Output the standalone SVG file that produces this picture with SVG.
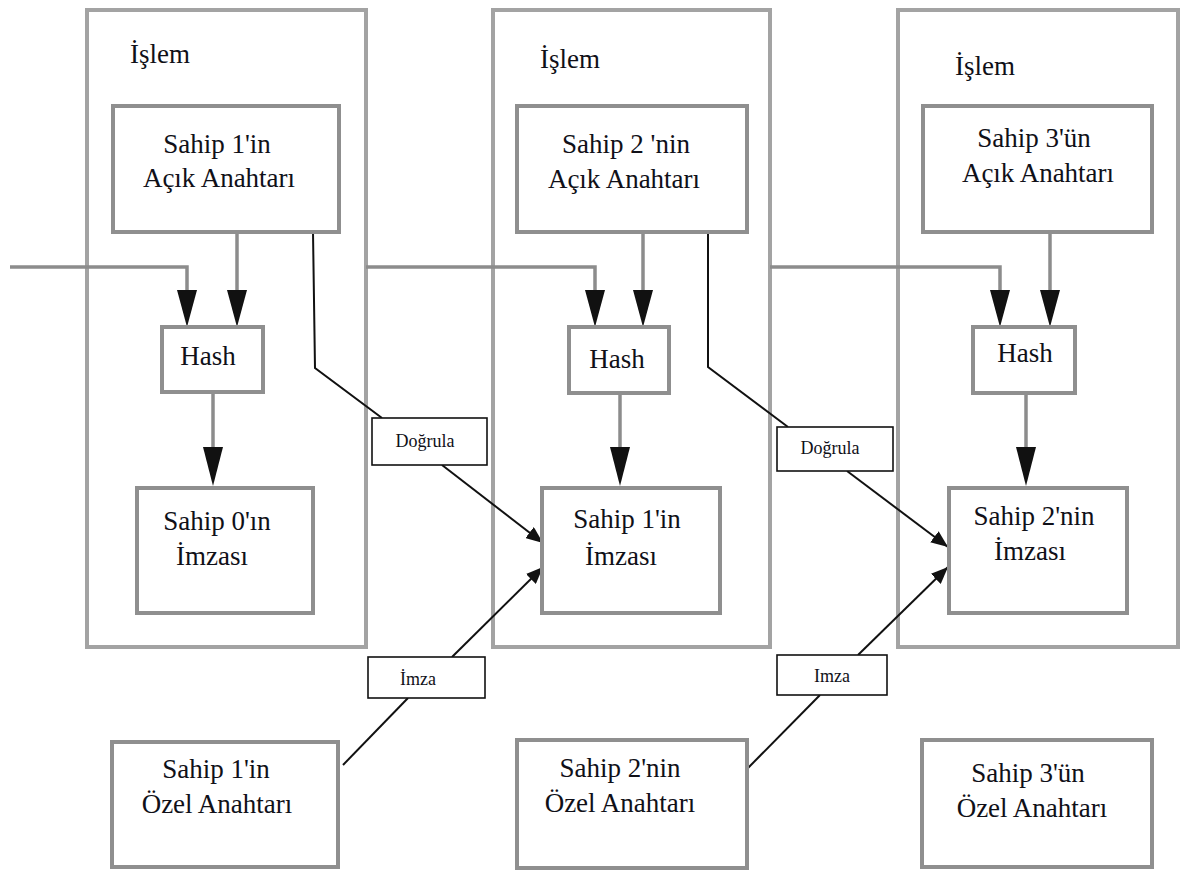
<svg xmlns="http://www.w3.org/2000/svg" width="1188" height="873" viewBox="0 0 1188 873" font-family="'Liberation Serif', 'DejaVu Serif', serif">
  <style>
    .outer { fill: #ffffff; stroke: #a3a3a3; stroke-width: 4; }
    .box { fill: #ffffff; stroke: #8f8f8f; stroke-width: 4; }
    .label { fill: #ffffff; stroke: #111111; stroke-width: 1.6; }
    .flow { fill: none; stroke: #8c8c8c; stroke-width: 3.5; }
    .link { fill: none; stroke: #111111; stroke-width: 2; }
    text { font-family: 'Liberation Serif', 'DejaVu Serif', serif; fill: #101018; }
    .t { font-size: 27px; }
    .s { font-size: 18px; text-anchor: middle; }
    .c { text-anchor: middle; }
    .head { fill: #111111; }
  </style>
  <defs>
    <marker id="arrow" markerUnits="userSpaceOnUse" markerWidth="18" markerHeight="14" refX="17" refY="7" orient="auto">
      <path d="M0,0 L17,7 L0,14 z" fill="#111111"/>
    </marker>
  </defs>

  <rect width="1188" height="873" fill="#ffffff"/>

  <!-- transaction frames -->
  <g id="tx1"><rect class="outer" x="87" y="10" width="279" height="637"/><text class="t" x="130" y="63">İşlem</text></g>
  <g id="tx2"><rect class="outer" x="493" y="10" width="277" height="637"/><text class="t" x="540" y="68">İşlem</text></g>
  <g id="tx3"><rect class="outer" x="898" y="10" width="280" height="637"/><text class="t" x="955" y="75">İşlem</text></g>

  <!-- connectors -->
  <g id="connectors">
    <!-- previous transaction chain into each hash -->
    <polyline class="flow" points="10,267 187,267 187,292"/>
    <polyline class="flow" points="366,267 595,267 595,292"/>
    <polyline class="flow" points="770,267 1000,267 1000,292"/>
    <!-- public key into hash -->
    <line class="flow" x1="237" y1="232" x2="237" y2="292"/>
    <line class="flow" x1="643" y1="232" x2="643" y2="292"/>
    <line class="flow" x1="1050" y1="232" x2="1050" y2="292"/>
    <!-- hash into signature -->
    <line class="flow" x1="213" y1="392" x2="213" y2="450"/>
    <line class="flow" x1="620" y1="393" x2="620" y2="450"/>
    <line class="flow" x1="1026" y1="393" x2="1026" y2="450"/>
    <!-- arrowheads of the chain -->
    <g class="head">
      <polygon points="177,290 197,290 187,327"/>
      <polygon points="227,290 247,290 237,327"/>
      <polygon points="585,290 605,290 595,327"/>
      <polygon points="633,290 653,290 643,327"/>
      <polygon points="990,290 1010,290 1000,327"/>
      <polygon points="1040,290 1060,290 1050,327"/>
      <polygon points="203,447 223,447 213,486"/>
      <polygon points="610,447 630,447 620,486"/>
      <polygon points="1016,447 1036,447 1026,486"/>
    </g>
    <!-- verification paths -->
    <polyline class="link" points="313,232 315,368 382,418"/>
    <line class="link" x1="442" y1="465" x2="543" y2="543" marker-end="url(#arrow)"/>
    <polyline class="link" points="708,232 708,367 788,427"/>
    <line class="link" x1="847" y1="471" x2="948" y2="547" marker-end="url(#arrow)"/>
    <!-- signing paths -->
    <line class="link" x1="343" y1="765" x2="408" y2="698"/>
    <line class="link" x1="452" y1="657" x2="543" y2="567" marker-end="url(#arrow)"/>
    <line class="link" x1="748" y1="768" x2="820" y2="695"/>
    <line class="link" x1="858" y1="655" x2="948" y2="567" marker-end="url(#arrow)"/>
  </g>

  <!-- public keys -->
  <g id="pub1"><rect class="box" x="113" y="106" width="226" height="126"/>
    <text class="t c" x="217" y="153">Sahip 1'in</text><text class="t c" x="219" y="187">Açık Anahtarı</text></g>
  <g id="pub2"><rect class="box" x="517" y="106" width="230" height="126"/>
    <text class="t c" x="626" y="153">Sahip 2 'nin</text><text class="t c" x="624" y="188">Açık Anahtarı</text></g>
  <g id="pub3"><rect class="box" x="923" y="106" width="229" height="126"/>
    <text class="t c" x="1034" y="147">Sahip 3'ün</text><text class="t c" x="1038" y="182">Açık Anahtarı</text></g>

  <!-- hash blocks -->
  <g id="hash1"><rect class="box" x="162" y="327" width="101" height="65"/><text class="t c" x="208" y="365">Hash</text></g>
  <g id="hash2"><rect class="box" x="569" y="327" width="100" height="66"/><text class="t c" x="617" y="368">Hash</text></g>
  <g id="hash3"><rect class="box" x="973" y="327" width="102" height="66"/><text class="t c" x="1025" y="362">Hash</text></g>

  <!-- signatures -->
  <g id="sig0"><rect class="box" x="137" y="488" width="176" height="125"/>
    <text class="t c" x="217" y="530">Sahip 0'ın</text><text class="t c" x="212" y="565">İmzası</text></g>
  <g id="sig1"><rect class="box" x="542" y="488" width="178" height="125"/>
    <text class="t c" x="627" y="528">Sahip 1'in</text><text class="t c" x="621" y="565">İmzası</text></g>
  <g id="sig2"><rect class="box" x="949" y="488" width="178" height="125"/>
    <text class="t c" x="1034" y="525">Sahip 2'nin</text><text class="t c" x="1030" y="560">İmzası</text></g>

  <!-- edge labels -->
  <g id="verify1"><rect class="label" x="372" y="418" width="115" height="47"/><text class="s" x="425" y="447">Doğrula</text></g>
  <g id="verify2"><rect class="label" x="777" y="427" width="116" height="44"/><text class="s" x="830" y="454">Doğrula</text></g>
  <g id="sign1"><rect class="label" x="368" y="657" width="117" height="41"/><text class="s" x="418" y="685">İmza</text></g>
  <g id="sign2"><rect class="label" x="777" y="655" width="110" height="40"/><text class="s" x="832" y="682">Imza</text></g>

  <!-- private keys -->
  <g id="priv1"><rect class="box" x="112" y="742" width="226" height="125"/>
    <text class="t c" x="216" y="778">Sahip 1'in</text><text class="t c" x="217" y="813">Özel Anahtarı</text></g>
  <g id="priv2"><rect class="box" x="517" y="740" width="230" height="128"/>
    <text class="t c" x="620" y="777">Sahip 2'nin</text><text class="t c" x="620" y="812">Özel Anahtarı</text></g>
  <g id="priv3"><rect class="box" x="922" y="740" width="230" height="127"/>
    <text class="t c" x="1028" y="782">Sahip 3'ün</text><text class="t c" x="1032" y="817">Özel Anahtarı</text></g>
</svg>
